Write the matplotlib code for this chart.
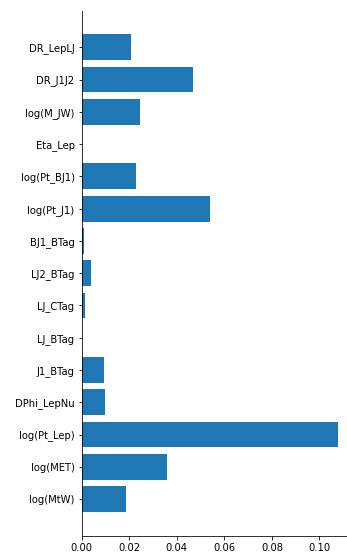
import matplotlib
matplotlib.use("Agg")
import matplotlib.pyplot as plt

# Feature importances, listed bottom to top
features = ["log(MtW)", "log(MET)", "log(Pt_Lep)", "DPhi_LepNu", "J1_BTag",
            "LJ_BTag", "LJ_CTag", "LJ2_BTag", "BJ1_BTag", "log(Pt_J1)",
            "log(Pt_BJ1)", "Eta_Lep", "log(M_JW)", "DR_J1J2", "DR_LepLJ"]
importances = [0.0187, 0.0361, 0.1079, 0.0097, 0.0093,
               0.0001, 0.0016, 0.0040, 0.0012, 0.0540,
               0.0230, 0.0, 0.0247, 0.0467, 0.0207]

fig = plt.figure(figsize=(347 / 72, 552 / 72), dpi=72)
ax = fig.add_axes([0.2349, 0.0293, 0.777, 0.9516])
ax.barh(features, importances)
ax.set_xticks([0.0, 0.02, 0.04, 0.06, 0.08, 0.10])
ax.spines["top"].set_visible(False)
ax.spines["right"].set_visible(False)

fig.savefig("out.png", dpi=72)
